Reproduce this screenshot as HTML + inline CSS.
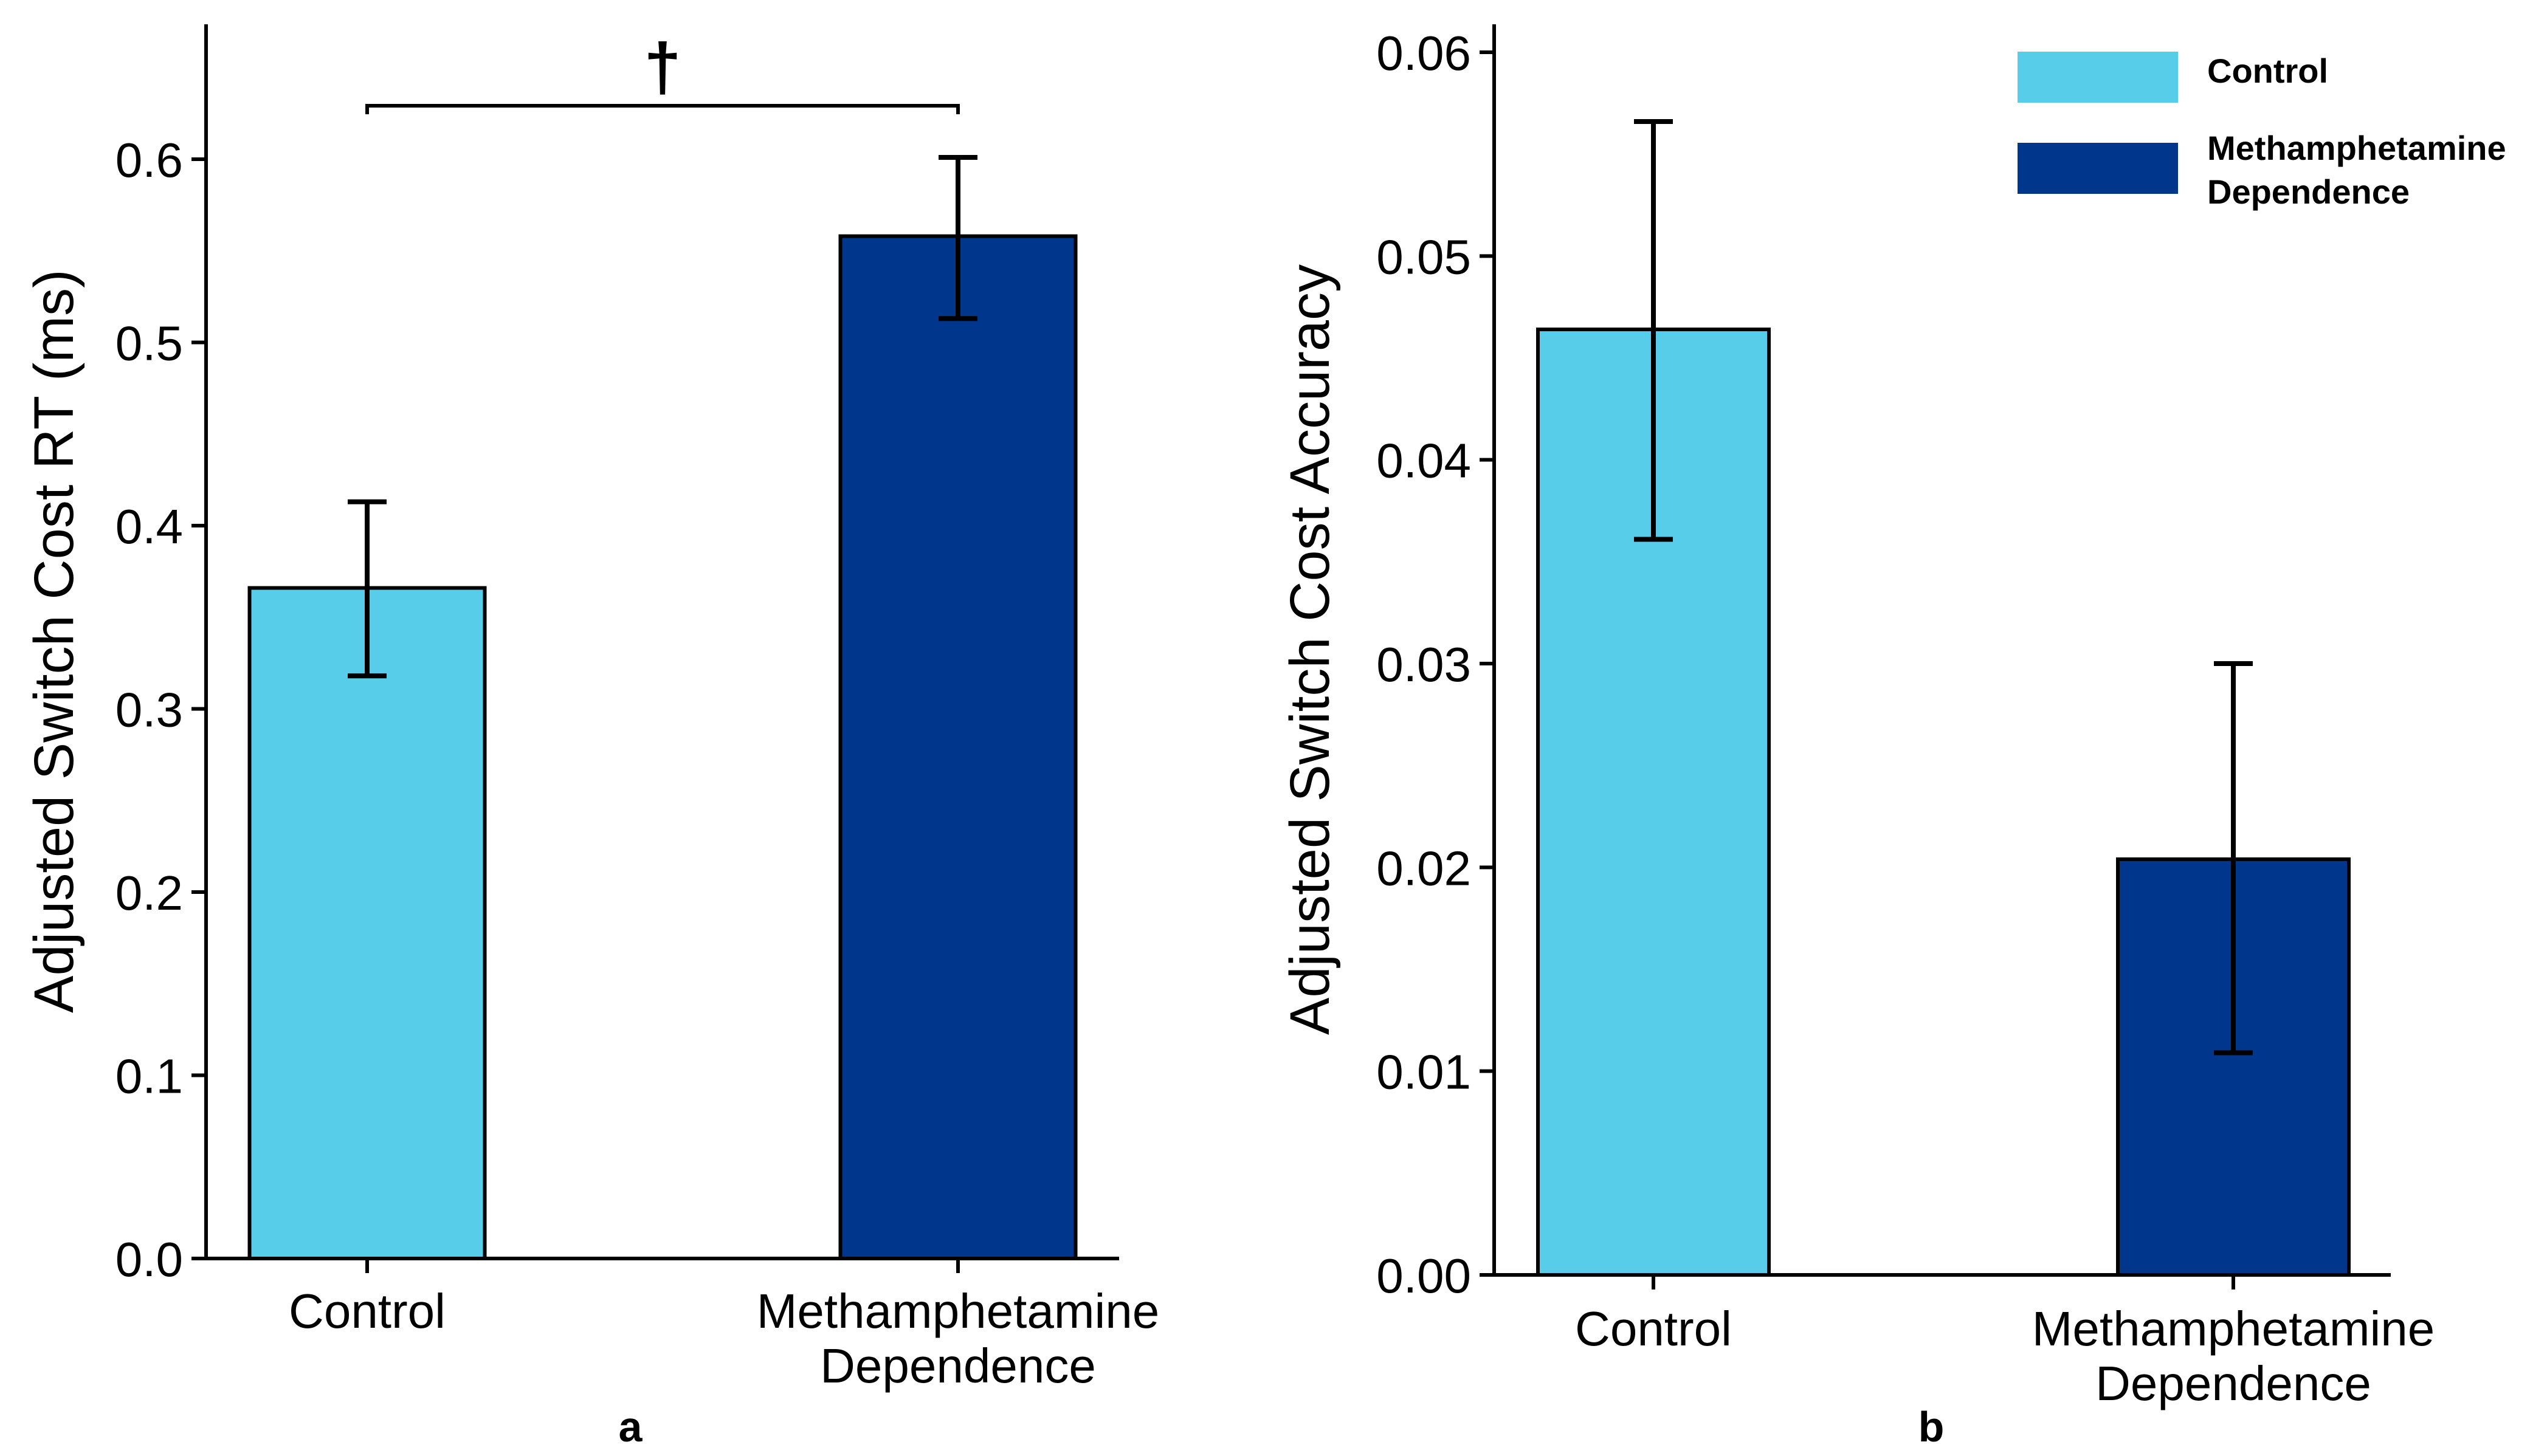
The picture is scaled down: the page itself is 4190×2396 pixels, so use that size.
<!DOCTYPE html>
<html><head><meta charset="utf-8"><style>
html,body{margin:0;padding:0;background:#fff;}
svg{display:block;font-family:"Liberation Sans",Arial,sans-serif;}
</style></head><body>
<svg id="chart" width="4190" height="2396" viewBox="0 0 4190 2396" xmlns="http://www.w3.org/2000/svg"></svg>
<script>
const categories = ["Control", "Methamphetamine|Dependence"];
const rtValues = [0.366, 0.558];
const rtErrLow = [0.318, 0.513];
const rtErrHigh = [0.413, 0.601];
const rtTicks = ["0.0","0.1","0.2","0.3","0.4","0.5","0.6"];
const accValues = [0.0464, 0.0204];
const accErrLow = [0.0361, 0.0109];
const accErrHigh = [0.0566, 0.0300];
const accTicks = ["0.00","0.01","0.02","0.03","0.04","0.05","0.06"];
const colors = ["#57CDEA", "#00368C"];
const legendLabels = ["Control", "Methamphetamine|Dependence"];

const NS = "http://www.w3.org/2000/svg";
const svg = document.getElementById("chart");
function mk(tag, attrs, parent, text){
  const e = document.createElementNS(NS, tag);
  for (const k in attrs) e.setAttribute(k, attrs[k]);
  if (text !== undefined) e.textContent = text;
  (parent || svg).appendChild(e);
  return e;
}

function panel(cfg){
  const g = mk("g", {});
  
  
  const y = v => cfg.y0 - (v - cfg.vmin) / (cfg.vmax - cfg.vmin) * (cfg.y0 - cfg.yTop);
  cfg.values.forEach((v, i) => {
    const cx = cfg.centers[i];
    const r = mk("rect", {x: cx - cfg.bw/2, y: y(v), width: cfg.bw, height: cfg.y0 - y(v), fill: colors[i], stroke: "#000", "stroke-width": 6}, g);
    
    
  });
  cfg.values.forEach((v, i) => {
    const cx = cfg.centers[i];
    const eg = mk("g", {stroke: "#000", "stroke-width": 8}, g);
    
    
    mk("line", {x1: cx, x2: cx, y1: y(cfg.lo[i]), y2: y(cfg.hi[i])}, eg);
    mk("line", {x1: cx-32, x2: cx+32, y1: y(cfg.lo[i]), y2: y(cfg.lo[i])}, eg);
    mk("line", {x1: cx-32, x2: cx+32, y1: y(cfg.hi[i]), y2: y(cfg.hi[i])}, eg);
  });
  const ya = mk("line", {x1: cfg.ax, x2: cfg.ax, y1: 40, y2: cfg.y0 + 3, stroke: "#000", "stroke-width": 6}, g);
  
  
  const xa = mk("line", {x1: cfg.ax - 3, x2: cfg.axEnd, y1: cfg.y0, y2: cfg.y0, stroke: "#000", "stroke-width": 6}, g);
  
  
  cfg.ticks.forEach(t => {
    const ty = y(parseFloat(t));
    mk("line", {x1: cfg.ax - 24, x2: cfg.ax, y1: ty, y2: ty, stroke: "#000", "stroke-width": 6}, g);
    const tl = mk("text", {x: cfg.ax - 38, y: ty + 29, "text-anchor": "end", "font-size": 80, fill: "#000"}, g, t);
    
    
  });
  categories.forEach((c, i) => {
    const cx = cfg.centers[i];
    mk("line", {x1: cx, x2: cx, y1: cfg.y0, y2: cfg.y0 + 24, stroke: "#000", "stroke-width": 6}, g);
    const lines = c.split("|");
    lines.forEach((ln, j) => {
      const t = mk("text", {x: cx, y: cfg.catY + j*90, "text-anchor": "middle", "font-size": 80, fill: "#000"}, g, ln);
      
      
    });
  });
  const yt = mk("text", {x: 0, y: 0, transform: `translate(${cfg.titleX},${cfg.titleY}) rotate(-90)`, "text-anchor": "middle", "font-size": 92, fill: "#000"}, g, cfg.title);
  
  
  const pl = mk("text", {x: cfg.labX, y: 2372, "text-anchor": "middle", "font-size": 70, "font-weight": "bold", fill: "#000"}, g, cfg.lab);
  
  
  return {g, y};
}

const a = panel({name: "panel-a-rt", vmin: 0, vmax: 0.6, y0: 2071, yTop: 262, ax: 339, axEnd: 1841,
  centers: [604, 1576], bw: 387, values: rtValues, lo: rtErrLow, hi: rtErrHigh, ticks: rtTicks,
  catY: 2185, title: "Adjusted Switch Cost RT (ms)", titleX: 120, titleY: 1055, lab: "a", labX: 1037});
const br = mk("path", {d: "M604 188 V174 H1576 V188", fill: "none", stroke: "#000", "stroke-width": 6}, a.g);


const dg = mk("text", {x: 1090, y: 148, "text-anchor": "middle", "font-size": 110, "font-weight": "bold", fill: "#000"}, a.g, "†");



const b = panel({name: "panel-b-accuracy", vmin: 0, vmax: 0.06, y0: 2098, yTop: 86, ax: 2458, axEnd: 3933,
  centers: [2720, 3674], bw: 380, values: accValues, lo: accErrLow, hi: accErrHigh, ticks: accTicks,
  catY: 2214, title: "Adjusted Switch Cost Accuracy", titleX: 2186, titleY: 1069, lab: "b", labX: 3177});

const lg = mk("g", {});


legendLabels.forEach((l, i) => {
  const top = i === 0 ? 85 : 235;
  const sw = mk("rect", {x: 3319, y: top, width: 264, height: 84, fill: colors[i]}, lg);
  
  
  const parts = l.split("|");
  parts.forEach((p, j) => {
    const ty = i === 0 ? 136 : 263 + j*72;
    const t = mk("text", {x: 3631, y: ty, "font-size": 56, "font-weight": "bold", fill: "#000"}, lg, p);
    
    
  });
});
</script>
</body></html>
